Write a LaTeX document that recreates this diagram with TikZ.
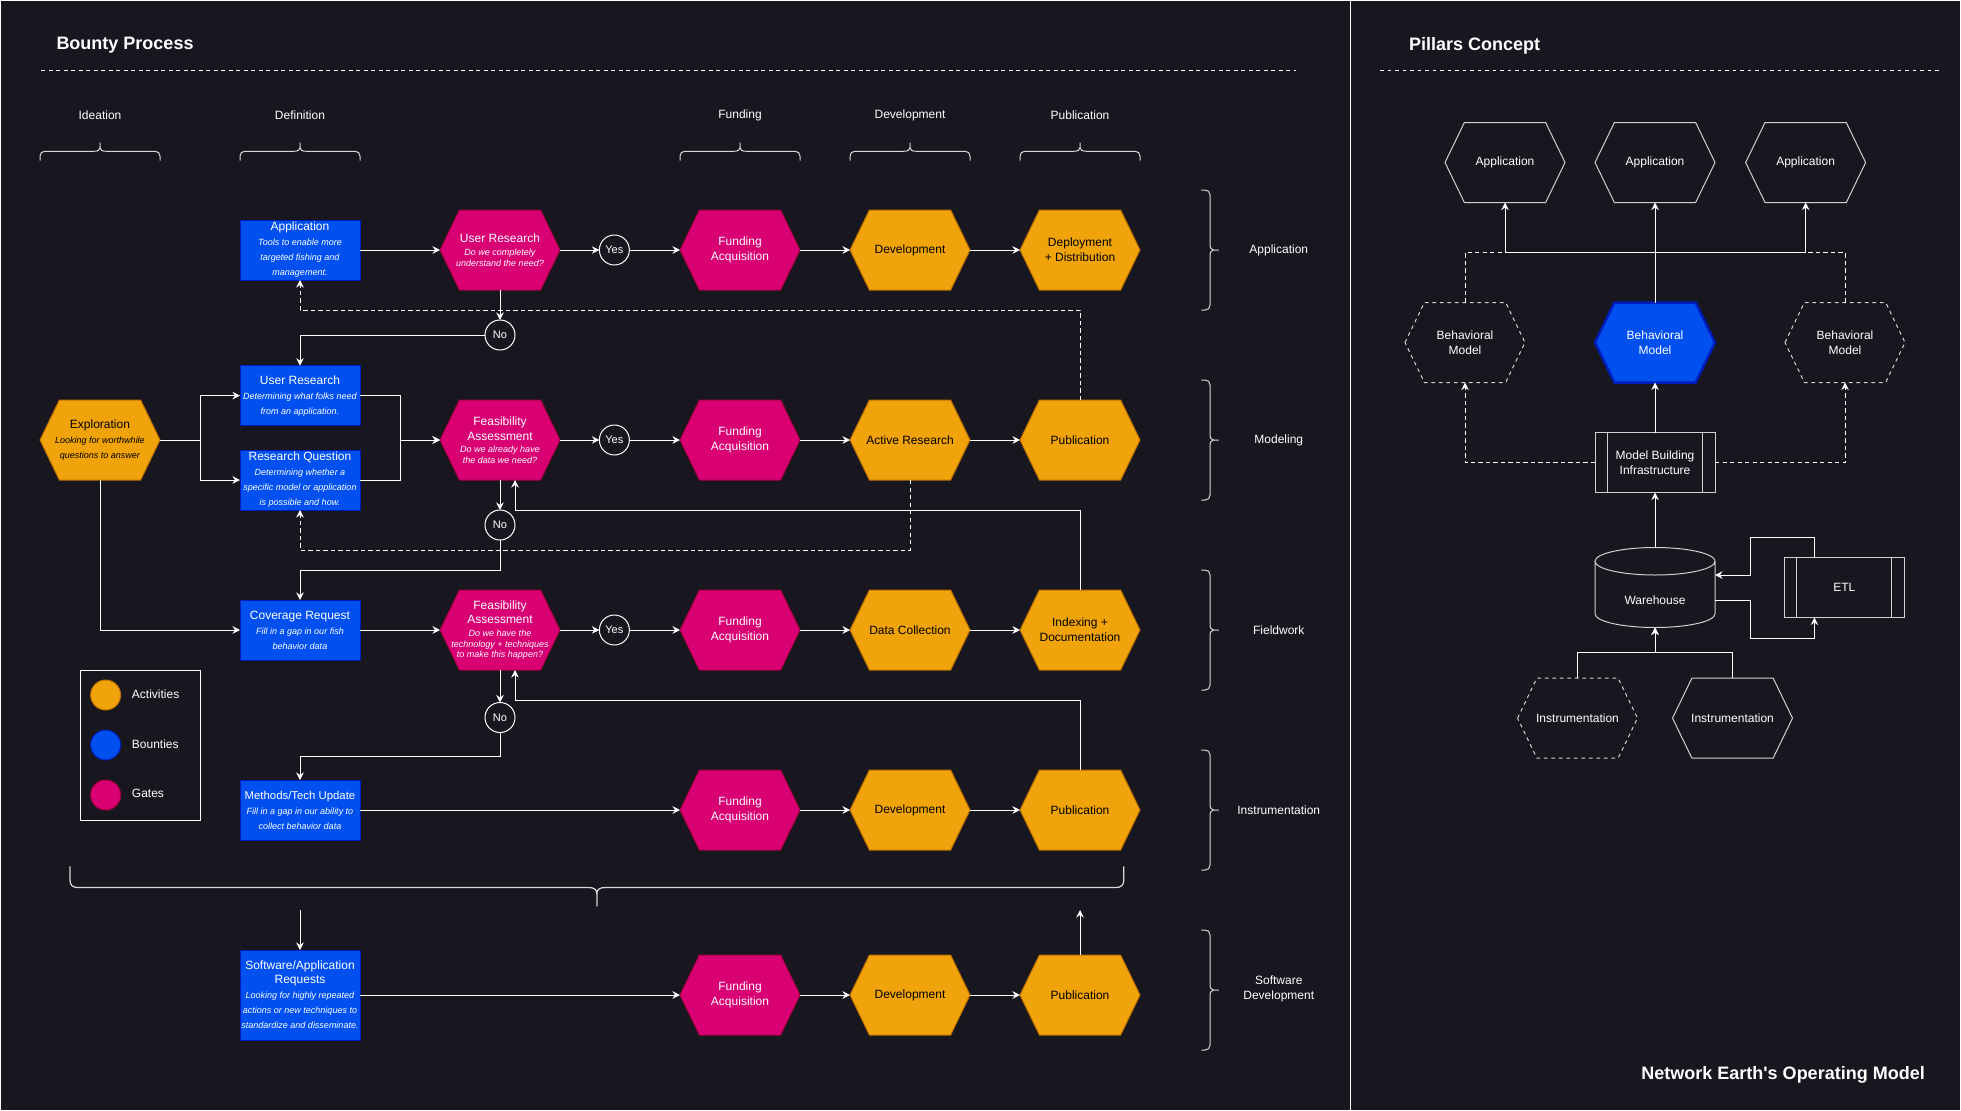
\documentclass[tikz,border=0pt]{standalone}
\usepackage{fontspec}
\setmainfont{Liberation Sans}
\newfontfamily\NEplain{Liberation Sans}
\usetikzlibrary{arrows.meta,calc}
\definecolor{bgc}{HTML}{18171F}
\definecolor{orF}{HTML}{F0A30A}
\definecolor{orS}{HTML}{BD7000}
\definecolor{pkF}{HTML}{D80073}
\definecolor{pkS}{HTML}{A50040}
\definecolor{blF}{HTML}{0050EF}
\definecolor{blS}{HTML}{001DBC}
\definecolor{shp}{HTML}{D0D0D0}
\definecolor{brcC}{HTML}{D8D8D8}
\newdimen\NEhxa \newdimen\NEhxb \newdimen\NEhya \newdimen\NEhyb \newdimen\NEhym \newdimen\NEhin
\NEhin=15.5pt
\makeatletter
\pgfdeclareshape{hexa}{%
  \inheritsavedanchors[from=rectangle]%
  \inheritanchorborder[from=rectangle]%
  \inheritanchor[from=rectangle]{center}%
  \inheritanchor[from=rectangle]{text}%
  \inheritanchor[from=rectangle]{base}%
  \inheritanchor[from=rectangle]{mid}%
  \inheritanchor[from=rectangle]{north}%
  \inheritanchor[from=rectangle]{south}%
  \inheritanchor[from=rectangle]{east}%
  \inheritanchor[from=rectangle]{west}%
  \inheritanchor[from=rectangle]{north east}%
  \inheritanchor[from=rectangle]{north west}%
  \inheritanchor[from=rectangle]{south east}%
  \inheritanchor[from=rectangle]{south west}%
  \backgroundpath{%
    \southwest \global\NEhxa=\pgf@x \global\NEhya=\pgf@y
    \northeast \global\NEhxb=\pgf@x \global\NEhyb=\pgf@y
    \global\NEhym=.5\NEhya \global\advance\NEhym by .5\NEhyb
    \pgfpathmoveto{\pgfqpoint{\NEhxa}{\NEhym}}%
    \pgfpathlineto{\pgfqpoint{\dimexpr\NEhxa+\NEhin\relax}{\NEhyb}}%
    \pgfpathlineto{\pgfqpoint{\dimexpr\NEhxb-\NEhin\relax}{\NEhyb}}%
    \pgfpathlineto{\pgfqpoint{\NEhxb}{\NEhym}}%
    \pgfpathlineto{\pgfqpoint{\dimexpr\NEhxb-\NEhin\relax}{\NEhya}}%
    \pgfpathlineto{\pgfqpoint{\dimexpr\NEhxa+\NEhin\relax}{\NEhya}}%
    \pgfpathclose
  }%
}
\makeatother
\newcommand\NEt{\fontsize{9.6}{12}\selectfont}
\newcommand\NEbf{\fontsize{7.2}{12}\selectfont}
\newcommand\NEgf{\fontsize{7.2}{8.6}\selectfont\lineskiplimit=-30pt\relax}
\newcommand\NEttl{\bfseries\fontsize{14.4}{17}\selectfont}
% brace with tip up: x1 x2 y
\newcommand\NEbrU[3]{%
 \draw[brc] (#1,#3+7.5) -- (#1,#3+4) .. controls (#1,#3+1.5) and (#1+1.5,#3) .. (#1+4,#3)
  -- ({(#1+#2)/2-5},#3) .. controls ({(#1+#2)/2-1.5},#3) and ({(#1+#2)/2},#3-1) .. ({(#1+#2)/2},#3-3)
  -- ({(#1+#2)/2},#3-7) -- ({(#1+#2)/2},#3-3) .. controls ({(#1+#2)/2},#3-1) and ({(#1+#2)/2+1.5},#3) .. ({(#1+#2)/2+5},#3)
  -- (#2-4,#3) .. controls (#2-1.5,#3) and (#2,#3+1.5) .. (#2,#3+4) -- (#2,#3+7.5);}
% brace with tip down: x1 x2 y
\newcommand\NEbrD[3]{%
 \draw[brc,line width=1pt] (#1,#3-17) -- (#1,#3-6) .. controls (#1,#3-2) and (#1+2,#3) .. (#1+6,#3)
  -- ({(#1+#2)/2-7},#3) .. controls ({(#1+#2)/2-2},#3) and ({(#1+#2)/2},#3+1.5) .. ({(#1+#2)/2},#3+5)
  -- ({(#1+#2)/2},#3+15) -- ({(#1+#2)/2},#3+5) .. controls ({(#1+#2)/2},#3+1.5) and ({(#1+#2)/2+2},#3) .. ({(#1+#2)/2+7},#3)
  -- (#2-6,#3) .. controls (#2-2,#3) and (#2,#3-2) .. (#2,#3-6) -- (#2,#3-17);}
% brace with tip right: y1 y2 x
\newcommand\NEbrR[3]{%
 \draw[brc] (#3-7,#1) -- (#3-4,#1) .. controls (#3-1.5,#1) and (#3,#1+1.5) .. (#3,#1+4)
  -- (#3,{(#1+#2)/2-5}) .. controls (#3,{(#1+#2)/2-1.5}) and (#3+1,{(#1+#2)/2}) .. (#3+3,{(#1+#2)/2})
  -- (#3+7,{(#1+#2)/2}) -- (#3+3,{(#1+#2)/2}) .. controls (#3+1,{(#1+#2)/2}) and (#3,{(#1+#2)/2+1.5}) .. (#3,{(#1+#2)/2+5})
  -- (#3,#2-4) .. controls (#3,#2-1.5) and (#3-1.5,#2) .. (#3-4,#2) -- (#3-7,#2);}
\begin{document}
\begin{tikzpicture}[x=1pt,y=-1pt,
  hexbase/.style={shape=hexa,minimum width=96pt,minimum height=64pt,inner sep=0pt,outer sep=0pt,align=center,line width=0.8pt},
  act/.style={hexbase,fill=orF,draw=orS,text=black,font=\NEt},
  gate/.style={hexbase,fill=pkF,draw=pkS,text=white,font=\NEgf},
  fund/.style={hexbase,fill=pkF,draw=pkS,text=white,font=\NEt},
  phex/.style={hexbase,fill=bgc,draw=shp,text=white,font=\NEt},
  dashhex/.style={phex,dash pattern=on 3pt off 3pt},
  bounty/.style={rectangle,minimum width=96pt,minimum height=48pt,inner sep=0pt,outer sep=0pt,fill=blF,draw=blS,line width=0.8pt,text=white,align=center,font=\NEbf},
  yn/.style={circle,minimum size=24pt,inner sep=0pt,outer sep=0pt,draw=white,fill=bgc,text=white,line width=0.8pt,font=\fontsize{8.8}{10}\selectfont},
  proc/.style={rectangle,minimum width=96pt,minimum height=48pt,inner sep=0pt,outer sep=0pt,draw=shp,line width=0.8pt,text=white,align=center,font=\NEt,
    path picture={\draw[shp,line width=0.8pt] ([xshift=10pt]path picture bounding box.north west) -- ([xshift=10pt]path picture bounding box.south west);
                  \draw[shp,line width=0.8pt] ([xshift=-10pt]path picture bounding box.north east) -- ([xshift=-10pt]path picture bounding box.south east);}},
  arr/.style={draw=white,line width=0.8pt,-{Stealth[length=6pt,width=6pt,inset=2pt]}},
  dsh/.style={arr,dash pattern=on 3.5pt off 2.5pt},
  dshl/.style={draw=white,line width=0.8pt,dash pattern=on 3.5pt off 2.5pt},
  sepline/.style={draw=white,line width=0.8pt,dash pattern=on 3pt off 3pt},
  brc/.style={draw=brcC,line width=0.8pt},
  lbl/.style={text=white,font=\NEt,align=center},
  ttl/.style={text=white,font=\NEttl,inner sep=0pt},
  lgc/.style={circle,minimum size=24pt,inner sep=0pt,line width=0.8pt}
]
\useasboundingbox (0,0) rectangle (1568.8,888.8);
\fill[bgc] (0,0) rectangle (1568.8,888.8);
\draw[white,line width=0.8pt] (0.5,0.5) rectangle (1080,888.3);
\draw[white,line width=0.8pt] (1080,0.5) rectangle (1568.3,888.3);

% ---------- Bounty Process ----------
\node[ttl,anchor=west] (tBP) at (45,36.5) {Bounty Process};
\draw[sepline] (33,56) -- (1037,56);

\node[lbl] (cIde) at (80,92) {Ideation};
\node[lbl] (cDef) at (240,92) {Definition};
\node[lbl] (cFun) at (592,92) {Funding};
\node[lbl] (cDev) at (728,92) {Development};
\node[lbl] (cPub) at (864,92) {Publication};
\NEbrU{32}{128}{121}
\NEbrU{192}{288}{121}
\NEbrU{544}{640}{121}
\NEbrU{680}{776}{121}
\NEbrU{816}{912}{121}

% row braces and labels
\NEbrR{152}{248}{968}
\NEbrR{304}{400}{968}
\NEbrR{456}{552}{968}
\NEbrR{600}{696}{968}
\NEbrR{744}{840}{968}
\node[lbl] (rApp) at (1023,200) {Application};
\node[lbl] (rMod) at (1023,352) {Modeling};
\node[lbl] (rFie) at (1023,504) {Fieldwork};
\node[lbl] (rIns) at (1023,648) {Instrumentation};
\node[lbl] (rSof) at (1023,791) {Software\\Development};

% big brace
\NEbrD{56}{899}{710}

% nodes
\node[act,font=\NEbf] (expl) at (80,352) {{\NEt Exploration}\\\textit{Looking for worthwhile}\\\textit{questions to answer}};
\node[bounty] (bApp) at (240,200) {{\NEt Application}\\\textit{Tools to enable more}\\\textit{targeted fishing and}\\\textit{management.}};
\node[bounty] (bUR) at (240,316.5) {{\NEt User Research}\\\textit{Determining what folks need}\\\textit{from an application.}};
\node[bounty] (bRQ) at (240,384) {{\NEt Research Question}\\\textit{Determining whether a}\\\textit{specific model or application}\\\textit{is possible and how.}};
\node[bounty] (bCov) at (240,504) {{\NEt Coverage Request}\\\textit{Fill in a gap in our fish}\\\textit{behavior data}};
\node[bounty] (bMeth) at (240,648) {{\fontsize{9.1}{12}\selectfont Methods/Tech Update}\\\textit{Fill in a gap in our ability to}\\\textit{collect behavior data}};
\node[bounty,minimum height=72pt] (bSoft) at (240,796) {{\NEt Software/Application}\\[-1pt]{\NEt Requests}\\\textit{Looking for highly repeated}\\\textit{actions or new techniques to}\\\textit{standardize and disseminate.}};

\node[gate] (gUR) at (400,200) {{\NEt User Research}\\[1.6pt]\textit{Do we completely}\\\textit{understand the need?}};
\node[gate] (gF1) at (400,352) {{\NEt Feasibility}\\[3.4pt]{\NEt Assessment}\\[1pt]\textit{Do we already have}\\\textit{the data we need?}};
\node[gate] (gF2) at (400,504) {{\NEt Feasibility}\\[2.6pt]{\NEt Assessment}\\[2pt]\textit{Do we have the}\\\textit{technology + techniques}\\\textit{to make this happen?}};

\node[yn] (y1) at (491.5,200) {Yes};
\node[yn] (y2) at (491.5,352) {Yes};
\node[yn] (y3) at (491.5,504) {Yes};
\node[yn] (n1) at (400,268) {No};
\node[yn] (n2) at (400,420) {No};
\node[yn] (n3) at (400,574) {No};

\node[fund] (f1) at (592,200) {Funding\\Acquisition};
\node[fund] (f2) at (592,352) {Funding\\Acquisition};
\node[fund] (f3) at (592,504) {Funding\\Acquisition};
\node[fund] (f4) at (592,648) {Funding\\Acquisition};
\node[fund] (f5) at (592,796) {Funding\\Acquisition};

\node[act] (d1) at (728,200) {Development};
\node[act] (a2) at (728,352) {Active Research};
\node[act] (d3) at (728,504) {Data Collection};
\node[act] (d4) at (728,648) {Development};
\node[act] (d5) at (728,796) {Development};

\node[act] (p1) at (864,200) {Deployment\\+ Distribution};
\node[act] (p2) at (864,352) {Publication};
\node[act] (p3) at (864,504) {Indexing +\\Documentation};
\node[act] (p4) at (864,648) {Publication};
\node[act] (p5) at (864,796) {Publication};

\coordinate (sIn) at (240,728);
\coordinate (pOut) at (864,728);

% connectors row 1
\draw[arr] (bApp.east) -- (gUR.west);
\draw[arr] (gUR.east) -- (y1.west);
\draw[arr] (y1.east) -- (f1.west);
\draw[arr] (f1.east) -- (d1.west);
\draw[arr] (d1.east) -- (p1.west);
\draw[arr] (gUR.south) -- (n1.north);
\draw[arr] (n1.west) -| (bUR.north);
\draw[dsh] (p2.north) -- ++(0,-72) -| (bApp.south);
% row 2
\draw[arr] (expl.east) -- ++(32,0) |- (bUR.west);
\draw[arr] (expl.east) -- ++(32,0) |- (bRQ.west);
\draw[arr] (bUR.east) -- ++(32,0) |- (gF1.west);
\draw[arr] (bRQ.east) -- ++(32,0) |- (gF1.west);
\draw[arr] (gF1.east) -- (y2.west);
\draw[arr] (y2.east) -- (f2.west);
\draw[arr] (f2.east) -- (a2.west);
\draw[arr] (a2.east) -- (p2.west);
\draw[arr] (gF1.south) -- (n2.north);
\draw[arr] (n2.south) -- ++(0,24) -| (bCov.north);
\draw[dsh] (a2.south) -- ++(0,56) -| (bRQ.south);
\draw[arr] (p3.north) -- ++(0,-64) -| ($(gF1.south)+(12,0)$);
% row 3
\draw[arr] (expl.south) |- (bCov.west);
\draw[arr] (bCov.east) -- (gF2.west);
\draw[arr] (gF2.east) -- (y3.west);
\draw[arr] (y3.east) -- (f3.west);
\draw[arr] (f3.east) -- (d3.west);
\draw[arr] (d3.east) -- (p3.west);
\draw[arr] (gF2.south) -- (n3.north);
\draw[arr] (n3.south) -- ++(0,19) -| (bMeth.north);
\draw[arr] (p4.north) -- ++(0,-56) -| ($(gF2.south)+(12,0)$);
% row 4
\draw[arr] (bMeth.east) -- (f4.west);
\draw[arr] (f4.east) -- (d4.west);
\draw[arr] (d4.east) -- (p4.west);
% row 5
\draw[arr] (sIn) -- (bSoft.north);
\draw[arr] (bSoft.east) -- (f5.west);
\draw[arr] (f5.east) -- (d5.west);
\draw[arr] (d5.east) -- (p5.west);
\draw[arr] (p5.north) -- (pOut);

% legend
\node[draw=white,line width=0.8pt,minimum width=96pt,minimum height=120pt,inner sep=0pt] (leg) at (112,596) {};
\node[lgc,fill=orF,draw=orS] (lA) at (84.5,556) {};
\node[lgc,fill=blF,draw=blS] (lB) at (84.5,596) {};
\node[lgc,fill=pkF,draw=pkS] (lG) at (84.5,636) {};
\node[lbl,anchor=west] (lAt) at (102,555) {Activities};
\node[lbl,anchor=west] (lBt) at (102,595) {Bounties};
\node[lbl,anchor=west] (lGt) at (102,635) {Gates};

% ---------- Pillars Concept ----------
\node[ttl,anchor=west] (tPC) at (1127,36.5) {Pillars Concept};
\draw[sepline] (1104,56) -- (1551,56);

\node[phex] (pa1) at (1204,130) {Application};
\node[phex] (pa2) at (1324,130) {Application};
\node[phex] (pa3) at (1444.5,130) {Application};
\node[dashhex] (bmL) at (1172,274) {Behavioral\\Model};
\node[hexbase,fill=blF,draw=blS,line width=2pt,text=white,font=\NEt] (bmM) at (1324,274) {Behavioral\\Model};
\node[dashhex] (bmR) at (1476,274) {Behavioral\\Model};
\node[proc] (mbi) at (1324,370) {Model Building\\Infrastructure};
\node[minimum width=96pt,minimum height=64pt,inner sep=0pt,outer sep=0pt,label={[lbl,yshift=-10pt]center:Warehouse}] (wh) at (1324,470) {};
\draw[shp,line width=0.8pt] ($(wh.north west)+(0,11)$) -- ($(wh.south west)+(0,-11)$)
   arc[start angle=180,end angle=360,x radius=48pt,y radius=11pt]
   -- ($(wh.north east)+(0,11)$)
   arc[start angle=0,end angle=180,x radius=48pt,y radius=11pt]
   arc[start angle=180,end angle=360,x radius=48pt,y radius=11pt];
\node[proc] (etl) at (1475.5,470) {ETL};
\node[dashhex] (inL) at (1262,574.5) {Instrumentation};
\node[phex] (inR) at (1386,574.5) {Instrumentation};

\coordinate (jM) at (1324,202);
\coordinate (jW) at (1324,522);
\draw[arr] (bmM.north) -- (pa2.south);
\draw[arr] (bmM.north) -- (jM) -| (pa1.south);
\draw[arr] (bmM.north) -- (jM) -| (pa3.south);
\draw[dshl] (bmL.north) |- (pa1.south |- jM);
\draw[dshl] (bmR.north) |- (pa3.south |- jM);
\draw[arr] (mbi.north) -- (bmM.south);
\draw[dsh] (mbi.west) -| (bmL.south);
\draw[dsh] (mbi.east) -| (bmR.south);
\draw[arr] (wh.north) -- (mbi.south);
\draw[arr] (inL.north) |- (jW) -- (wh.south);
\draw[arr] (inR.north) |- (jW) -- (wh.south);
\draw[arr] ($(etl.north west)!0.25!(etl.north east)$) |- (1400.5,430) |- ($(wh.east)+(0,-10)$);
\draw[arr] ($(wh.east)+(0,10)$) -| (1400.5,510.5) -| ($(etl.south west)!0.25!(etl.south east)$);

\node[ttl,anchor=east,font=\NEplain\NEttl] (tNE) at (1540,860) {Network Earth's Operating Model};
\end{tikzpicture}
\end{document}
